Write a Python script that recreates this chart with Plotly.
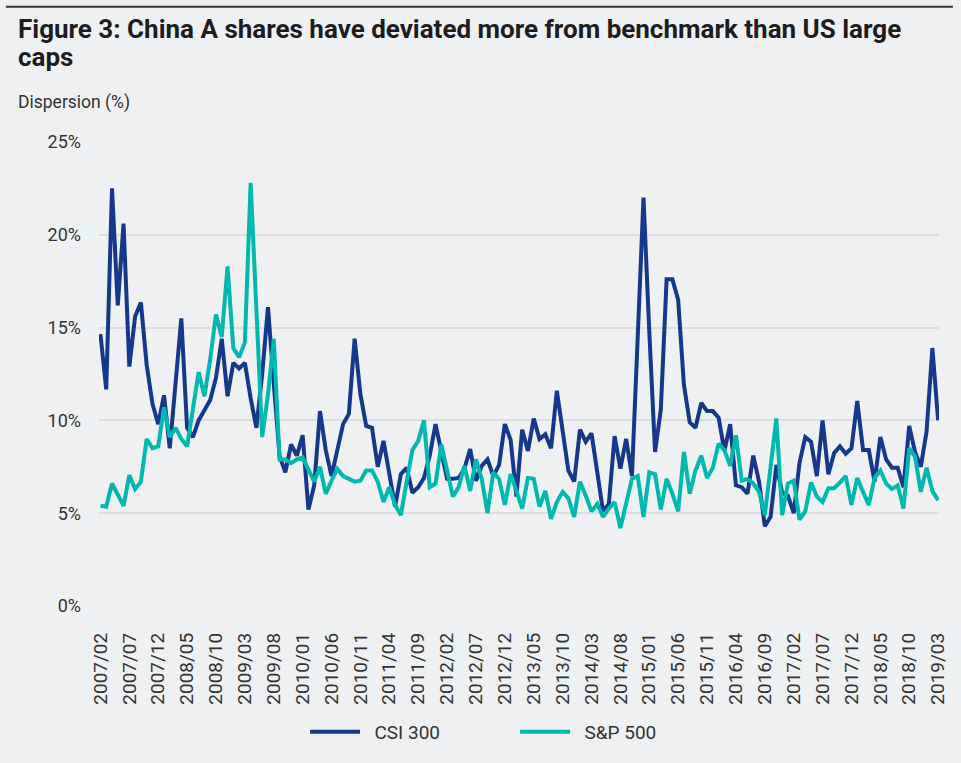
import pandas as pd
import plotly.graph_objects as go

months = [p.strftime("%Y/%m") for p in pd.period_range("2007-02", "2019-03", freq="M")]

csi300 = [14.65, 11.67, 22.5, 16.2, 20.6, 12.9, 15.6, 16.35, 13.0, 10.9,
          9.8, 11.35, 8.5, 12.0, 15.5, 9.6, 9.1, 10.0, 10.6, 11.1,
          12.3, 14.4, 11.3, 13.1, 12.8, 13.1, 11.2, 9.6, 12.5, 16.1,
          12.0, 8.1, 7.2, 8.7, 8.1, 9.2, 5.2, 6.5, 10.5, 8.4,
          7.0, 8.4, 9.8, 10.35, 14.4, 11.4, 9.7, 9.6, 7.5, 8.9,
          7.2, 5.35, 7.1, 7.45, 6.1, 6.4, 6.9, 8.1, 9.8, 8.2,
          6.85, 6.85, 6.9, 7.4, 8.45, 6.75, 7.55, 7.9, 7.0, 7.6,
          9.8, 8.95, 5.9, 9.5, 8.35, 10.1, 9.0, 9.25, 8.5, 11.6,
          9.3, 7.3, 6.7, 9.5, 8.85, 9.3, 7.2, 5.1, 5.5, 9.15,
          7.4, 9.0, 7.0, 14.5, 22.0, 14.8, 8.3, 10.6, 17.6, 17.6,
          16.5, 11.9, 9.9, 9.6, 10.95, 10.5, 10.5, 10.15, 8.35, 9.8,
          6.5, 6.4, 6.05, 8.1, 6.7, 4.3, 4.8, 7.6, 6.1, 5.95,
          5.0, 7.7, 9.1, 8.85, 7.0, 10.0, 7.1, 8.25, 8.6, 8.2,
          8.5, 11.05, 8.4, 8.4, 6.7, 9.1, 7.9, 7.45, 7.45, 6.4,
          9.7, 8.3, 7.5, 9.4, 13.9, 10.0]

sp500 = [5.4, 5.35, 6.6, 6.0, 5.4, 7.05, 6.3, 6.7, 9.0, 8.5,
         8.6, 10.7, 9.1, 9.6, 9.0, 8.6, 10.5, 12.6, 11.3, 13.3,
         15.7, 14.5, 18.3, 13.9, 13.4, 14.2, 22.8, 16.0, 9.1, 11.4,
         14.4, 7.9, 7.9, 7.7, 7.9, 8.0, 7.4, 6.7, 7.5, 6.05,
         6.75, 7.4, 7.0, 6.85, 6.7, 6.75, 7.3, 7.3, 6.7, 5.6,
         6.4, 5.45, 4.9, 6.7, 8.4, 8.9, 10.0, 6.4, 6.6, 8.7,
         7.4, 5.9, 6.4, 7.55, 6.2, 7.9, 6.85, 5.0, 7.2, 6.85,
         5.45, 7.1, 6.2, 5.25, 6.9, 6.85, 5.35, 6.2, 4.7, 5.6,
         6.15, 5.8, 4.8, 6.7, 5.95, 5.1, 5.5, 4.8, 5.25, 5.6,
         4.2, 5.45, 6.85, 7.0, 4.8, 7.2, 7.1, 5.2, 6.85, 6.05,
         5.1, 8.3, 6.05, 7.3, 8.1, 6.9, 7.45, 8.75, 8.4, 7.55,
         9.2, 6.75, 6.85, 6.6, 6.15, 4.9, 7.5, 10.1, 4.9, 6.6,
         6.75, 4.65, 5.1, 6.65, 5.9, 5.6, 6.35, 6.35, 6.65, 7.0,
         5.45, 6.9, 6.15, 5.45, 6.9, 7.3, 6.6, 6.3, 6.5, 5.25,
         8.5, 8.05, 6.15, 7.45, 6.2, 5.7]

x_ticks = months[::5]
y_ticks = [0, 5, 10, 15, 20, 25]
y_tick_labels = ["0%", "5%", "10%", "15%", "20%", "25%"]

title_line1 = "Figure 3: China A shares have deviated more from benchmark than US large"
title_line2 = "caps"
y_title = "Dispersion (%)"
series_names = ["CSI 300", "S&P 500"]

NAVY = "#15388a"
TEAL = "#00b8ad"
BG = "#eff0f2"
FONT = "Roboto"
PAD = "\u00a0\u00a0"

fig = go.Figure()
fig.add_trace(go.Scatter(x=months, y=csi300, name=PAD + series_names[0], mode="lines",
                         line=dict(color=NAVY, width=4)))
fig.add_trace(go.Scatter(x=months, y=sp500, name=PAD + series_names[1], mode="lines",
                         line=dict(color=TEAL, width=4)))

L, R, T, B = 99, 14, 142, 146
W, H = 961, 763
PW, PH = W - L - R, H - T - B


def px(xp):
    return (xp - L) / PW


def py(yp):
    return (H - B - yp) / PH


title_html = ('<span style="font-size:26px"><b>' + title_line1 + '</b></span><br>'
              '<span style="font-size:26px"><b>' + title_line2 + '</b></span>')

fig.update_layout(
    width=W, height=H,
    margin=dict(l=L, r=R, t=T, b=B, pad=0),
    paper_bgcolor=BG, plot_bgcolor=BG,
    font=dict(family=FONT, color="#333333"),
    showlegend=True,
    legend=dict(orientation="h", x=px(307), xanchor="left", y=py(746), yanchor="middle",
                font=dict(size=19, color="#333333"), bgcolor="rgba(0,0,0,0)",
                itemwidth=50, entrywidth=145),
    xaxis=dict(type="category", range=[-0.25, 145.15], tickmode="array",
               tickvals=x_ticks, ticktext=x_ticks, tickangle=-90,
               showgrid=False, zeroline=False, showline=False, ticks="",
               tickfont=dict(size=19, color="#333333"), ticklabelstandoff=22),
    yaxis=dict(range=[0, 25], tickmode="array", tickvals=y_ticks, ticktext=y_tick_labels,
               showgrid=True, gridcolor="#dcdde1", gridwidth=1.5, zeroline=False,
               showline=False, ticks="", tickfont=dict(size=18, color="#333333"),
               ticklabelstandoff=17),
    annotations=[
        dict(text=title_html,
             xref="paper", yref="paper", x=px(15), y=py(9), xanchor="left", yanchor="top",
             align="left", showarrow=False, font=dict(size=21.5, color="#1d1d1d", family=FONT)),
        dict(text=y_title, xref="paper", yref="paper", x=px(15), y=py(102),
             xanchor="left", yanchor="middle", showarrow=False,
             font=dict(size=17.5, color="#333333", family=FONT)),
    ],
    shapes=[dict(type="line", xref="paper", yref="paper", x0=px(5), x1=px(961),
                 y0=py(3.5), y1=py(3.5), line=dict(color="#333333", width=2))],
)

fig.write_html("out.html", config={"displayModeBar": False},
               post_script="document.body.style.margin='0';")
